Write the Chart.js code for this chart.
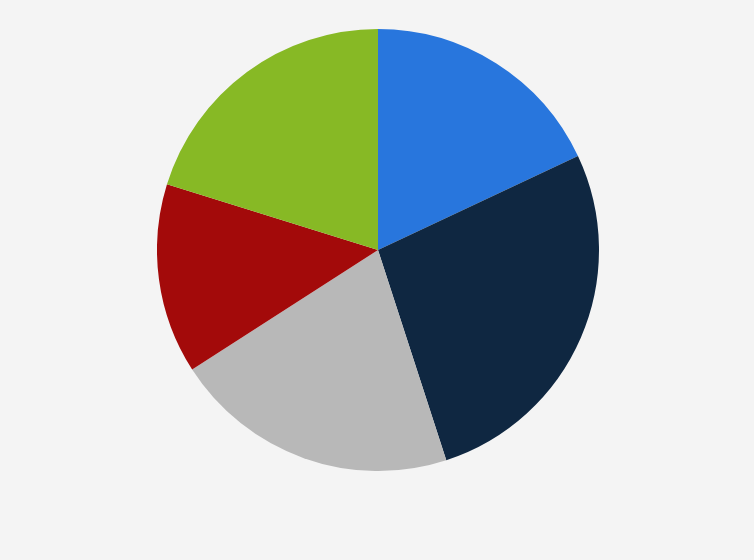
<!DOCTYPE html>
<html>
<head>
<meta charset="utf-8">
<script src="https://cdn.jsdelivr.net/npm/chart.js@4"></script>
<style>
html,body{margin:0;padding:0;background:#f4f4f4;width:754px;height:560px;overflow:hidden;}
#wrap{position:absolute;left:157px;top:29px;width:442px;height:442px;}
</style>
</head>
<body>
<div id="wrap"><canvas id="c"></canvas></div>
<script>
const categories = ["Segment A","Segment B","Segment C","Segment D","Segment E"];
const values = [18.0, 27.0, 20.9, 13.9, 20.2];
const colors = ["#2876dd","#0f2741","#b8b8b8","#a30a0a","#87b925"];

new Chart(document.getElementById('c'), {
  type: 'pie',
  data: {
    labels: categories,
    datasets: [{ data: values, backgroundColor: colors, borderWidth: 0, hoverOffset: 0 }]
  },
  options: {
    responsive: true,
    maintainAspectRatio: false,
    animation: false,
    layout: { padding: 0 },
    plugins: { legend: { display: false }, tooltip: { enabled: false } }
  }
});
</script>
</body>
</html>
